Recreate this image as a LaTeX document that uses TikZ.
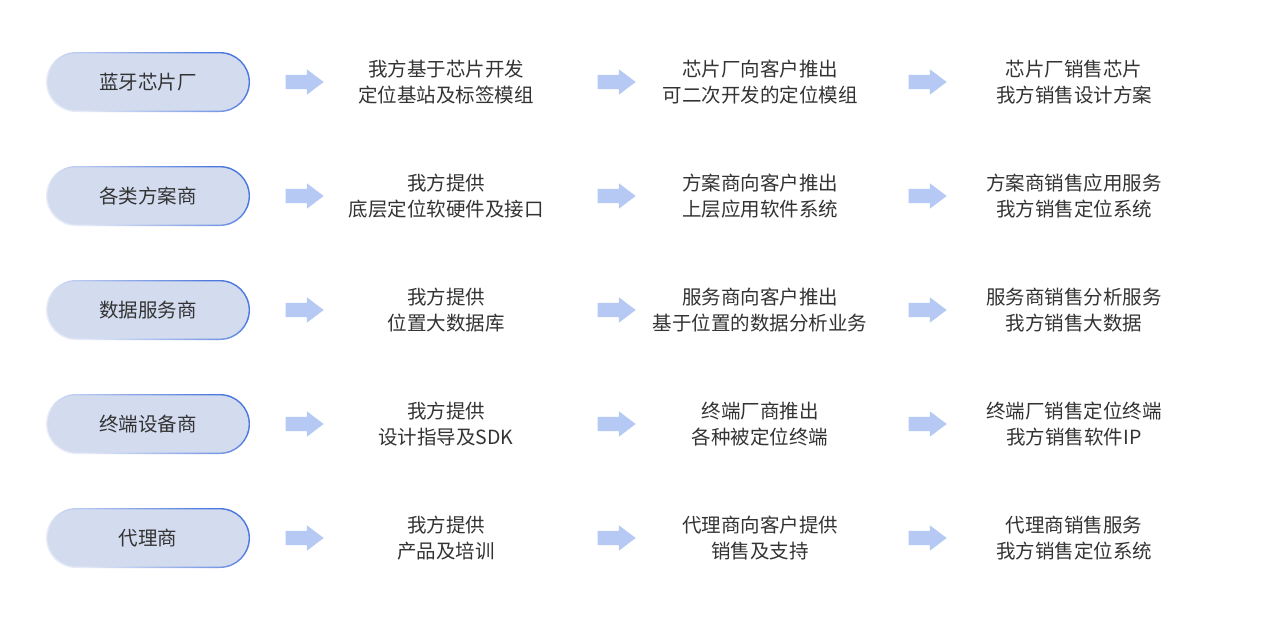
\documentclass[tikz,border=0pt]{standalone}
\usepackage{fontspec}
\setmainfont{Noto Sans CJK SC}
\usepackage{tikz}
\usetikzlibrary{shapes.arrows,positioning}
\definecolor{pillfill}{HTML}{D3DBEF}
\definecolor{pillblue}{HTML}{4C78DE}
\definecolor{pillpale}{HTML}{E6EBF7}
\definecolor{arrowfill}{HTML}{B6C8F4}
\definecolor{textgray}{HTML}{333333}
\tikzset{
    %Define style for the partner pills
    firm/.style={
           rectangle,
           rounded corners=30pt,
           minimum width=204pt,
           minimum height=60pt,
           inner sep=0pt,
           top color=pillblue, bottom color=pillpale,
           shading angle=-45,
           path picture={\fill[pillfill,rounded corners=29pt]
              ([shift={(1.4pt,-1.4pt)}]path picture bounding box.north west)
              rectangle ([shift={(-1.4pt,1.4pt)}]path picture bounding box.south east);},
           text=textgray,
           font=\fontsize{19.5pt}{26pt}\selectfont,
           text centered},
    %Define style for the two line texts
    desc/.style={
           rectangle,
           inner sep=0pt,
           align=center,
           text=textgray,
           font=\fontsize{19.5pt}{26pt}\selectfont},
    % Define arrow style
    pil/.style={
           single arrow,
           anchor=tail,
           draw=none,
           minimum height=38pt,
           inner xsep=0pt,
           inner ysep=7pt,
           single arrow head extend=5.5pt,
           single arrow tip angle=74,
           fill=arrowfill}
}
\begin{document}
\begin{tikzpicture}[x=1pt,y=-1pt]
\useasboundingbox[fill=white] (0,0) rectangle (1262,621);

 %nodes
\node[firm](f1) at (148,82){蓝牙芯片厂};
\node[pil](a11) at (285.5,82){};
\node[desc](d11) at (446,82){我方基于芯片开发\\定位基站及标签模组};
\node[pil](a12) at (597.5,82){};
\node[desc](d12) at (760,82){芯片厂向客户推出\\可二次开发的定位模组};
\node[pil](a13) at (908.5,82){};
\node[desc](d13) at (1074,82){芯片厂销售芯片\\我方销售设计方案};

\node[firm](f2) at (148,196){各类方案商};
\node[pil](a21) at (285.5,196){};
\node[desc](d21) at (446,196){我方提供\\底层定位软硬件及接口};
\node[pil](a22) at (597.5,196){};
\node[desc](d22) at (760,196){方案商向客户推出\\上层应用软件系统};
\node[pil](a23) at (908.5,196){};
\node[desc](d23) at (1074,196){方案商销售应用服务\\我方销售定位系统};

\node[firm](f3) at (148,310){数据服务商};
\node[pil](a31) at (285.5,310){};
\node[desc](d31) at (446,310){我方提供\\位置大数据库};
\node[pil](a32) at (597.5,310){};
\node[desc](d32) at (760,310){服务商向客户推出\\基于位置的数据分析业务};
\node[pil](a33) at (908.5,310){};
\node[desc](d33) at (1074,310){服务商销售分析服务\\我方销售大数据};

\node[firm](f4) at (148,424){终端设备商};
\node[pil](a41) at (285.5,424){};
\node[desc](d41) at (446,424){我方提供\\设计指导及SDK};
\node[pil](a42) at (597.5,424){};
\node[desc](d42) at (760,424){终端厂商推出\\各种被定位终端};
\node[pil](a43) at (908.5,424){};
\node[desc](d43) at (1074,424){终端厂销售定位终端\\我方销售软件IP};

\node[firm](f5) at (148,538){代理商};
\node[pil](a51) at (285.5,538){};
\node[desc](d51) at (446,538){我方提供\\产品及培训};
\node[pil](a52) at (597.5,538){};
\node[desc](d52) at (760,538){代理商向客户提供\\销售及支持};
\node[pil](a53) at (908.5,538){};
\node[desc](d53) at (1074,538){代理商销售服务\\我方销售定位系统};
\end{tikzpicture}
\end{document}
